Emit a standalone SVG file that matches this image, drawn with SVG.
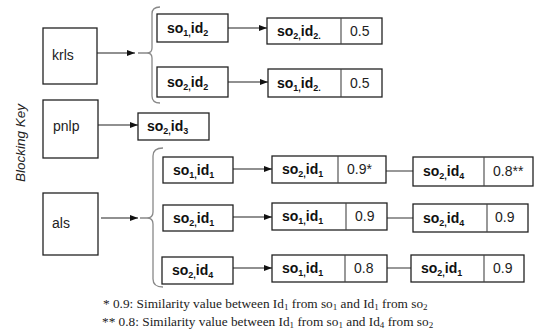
<svg xmlns="http://www.w3.org/2000/svg" width="535" height="331" viewBox="0 0 535 331">
<defs>
<marker id="ah" viewBox="0 0 8 6" refX="8" refY="3" markerWidth="8" markerHeight="6" markerUnits="userSpaceOnUse" orient="auto"><path d="M0,0 L8,3 L0,6 z" fill="#111"/></marker>
<style>
.box{fill:#fff;stroke:#222;stroke-width:1.3}
.key{font-family:"Liberation Sans",Arial,sans-serif;font-size:14px;fill:#222}
.lbl{font-family:"Liberation Sans",Arial,sans-serif;font-size:14px;font-weight:bold;fill:#111}
.num{font-family:"Liberation Sans",Arial,sans-serif;font-size:14px;fill:#222}
.sub{font-size:9px}
.arr{stroke:#222;stroke-width:1.1;fill:none;marker-end:url(#ah)}
.ln{stroke:#444;stroke-width:1.1;fill:none}
.brace{stroke:#888;stroke-width:1.3;fill:none}
.note{font-family:"Liberation Serif","Times New Roman",serif;font-size:13.3px;fill:#222}
.nsub{font-size:9px}
.axis{font-family:"Liberation Sans",Arial,sans-serif;font-size:13.5px;font-style:italic;fill:#222}
</style>
</defs>

<text class="axis" transform="translate(25,143) rotate(-90)" text-anchor="middle">Blocking Key</text>

<g id="connectors">
<path class="arr" d="M97,53 H135"/>
<path class="brace" d="M160,7 Q152,7 152,14 V48 Q152,53 147,53 H138 M147,53 Q152,53 152,58 V96 Q152,103 160,103"/>
<path class="arr" d="M228,28 H267"/>
<path class="arr" d="M228,82 H268"/>
<path class="arr" d="M98,125 H138"/>
<path class="arr" d="M101,218 H138"/>
<path class="brace" d="M163,148 Q153,148 153,156 V212 Q153,218 147,218 H140 M147,218 Q153,218 153,224 V279 Q153,287 163,287"/>
<path class="arr" d="M233,169 H272"/>
<path class="arr" d="M233,217 H272"/>
<path class="arr" d="M233,268 H272"/>
<path class="ln" d="M386,171 H413"/>
<path class="ln" d="M387,218 H413"/>
<path class="ln" d="M387,268 H411"/>
</g>

<g id="krls"><rect class="box" x="43" y="28" width="54" height="56"/><text class="key" x="52" y="60">krls</text></g>
<g id="pnlp"><rect class="box" x="43" y="100" width="55" height="58"/><text class="key" x="53" y="131">pnlp</text></g>
<g id="als"><rect class="box" x="43" y="193" width="55" height="62"/><text class="key" x="52" y="228">als</text></g>

<g id="k1"><rect class="box" x="157" y="14" width="71" height="28"/><text class="lbl" x="167" y="33">so<tspan class="sub" dy="3">1,</tspan><tspan dy="-3">id</tspan><tspan class="sub" dy="3">2</tspan></text></g>
<g id="k2"><rect class="box" x="157" y="67" width="71" height="30"/><text class="lbl" x="167" y="87">so<tspan class="sub" dy="3">2,</tspan><tspan dy="-3">id</tspan><tspan class="sub" dy="3">2</tspan></text></g>
<g id="k1r"><rect class="box" x="267" y="18" width="115" height="26"/><line class="ln" x1="341" y1="18" x2="341" y2="44"/><text class="lbl" x="277" y="36">so<tspan class="sub" dy="3">2,</tspan><tspan dy="-3">id</tspan><tspan class="sub" dy="3">2.</tspan></text><text class="num" x="350" y="36">0.5</text></g>
<g id="k2r"><rect class="box" x="268" y="69" width="114" height="28"/><line class="ln" x1="341" y1="69" x2="341" y2="97"/><text class="lbl" x="277" y="88">so<tspan class="sub" dy="3">1,</tspan><tspan dy="-3">id</tspan><tspan class="sub" dy="3">2.</tspan></text><text class="num" x="350" y="88">0.5</text></g>

<g id="p1"><rect class="box" x="138" y="113" width="71" height="27"/><text class="lbl" x="147" y="131">so<tspan class="sub" dy="3">2,</tspan><tspan dy="-3">id</tspan><tspan class="sub" dy="3">3</tspan></text></g>

<g id="a1"><rect class="box" x="163" y="157" width="70" height="26"/><text class="lbl" x="173" y="175">so<tspan class="sub" dy="3">1,</tspan><tspan dy="-3">id</tspan><tspan class="sub" dy="3">1</tspan></text></g>
<g id="a2"><rect class="box" x="163" y="205" width="70" height="26"/><text class="lbl" x="173" y="223">so<tspan class="sub" dy="3">2,</tspan><tspan dy="-3">id</tspan><tspan class="sub" dy="3">1</tspan></text></g>
<g id="a3"><rect class="box" x="162" y="257" width="71" height="27"/><text class="lbl" x="172" y="275">so<tspan class="sub" dy="3">2,</tspan><tspan dy="-3">id</tspan><tspan class="sub" dy="3">4</tspan></text></g>

<g id="a1m"><rect class="box" x="272" y="156" width="114" height="27"/><line class="ln" x1="338" y1="156" x2="338" y2="183"/><text class="lbl" x="282" y="174">so<tspan class="sub" dy="3">2,</tspan><tspan dy="-3">id</tspan><tspan class="sub" dy="3">1</tspan></text><text class="num" x="347" y="174">0.9*</text></g>
<g id="a1r"><rect class="box" x="413" y="157" width="120" height="29"/><line class="ln" x1="484" y1="157" x2="484" y2="186"/><text class="lbl" x="423" y="176">so<tspan class="sub" dy="3">2,</tspan><tspan dy="-3">id</tspan><tspan class="sub" dy="3">4</tspan></text><text class="num" x="493" y="176">0.8**</text></g>

<g id="a2m"><rect class="box" x="272" y="203" width="115" height="27"/><line class="ln" x1="346" y1="203" x2="346" y2="230"/><text class="lbl" x="282" y="221">so<tspan class="sub" dy="3">1,</tspan><tspan dy="-3">id</tspan><tspan class="sub" dy="3">1</tspan></text><text class="num" x="355" y="221">0.9</text></g>
<g id="a2r"><rect class="box" x="413" y="204" width="115" height="28"/><line class="ln" x1="487" y1="204" x2="487" y2="232"/><text class="lbl" x="423" y="223">so<tspan class="sub" dy="3">2,</tspan><tspan dy="-3">id</tspan><tspan class="sub" dy="3">4</tspan></text><text class="num" x="495" y="222">0.9</text></g>

<g id="a3m"><rect class="box" x="272" y="255" width="115" height="27"/><line class="ln" x1="345" y1="255" x2="345" y2="282"/><text class="lbl" x="282" y="273">so<tspan class="sub" dy="3">1,</tspan><tspan dy="-3">id</tspan><tspan class="sub" dy="3">1</tspan></text><text class="num" x="354" y="273">0.8</text></g>
<g id="a3r"><rect class="box" x="411" y="255" width="113" height="27"/><line class="ln" x1="484" y1="255" x2="484" y2="282"/><text class="lbl" x="421" y="273">so<tspan class="sub" dy="3">2,</tspan><tspan dy="-3">id</tspan><tspan class="sub" dy="3">1</tspan></text><text class="num" x="493" y="273">0.9</text></g>

<g id="notes">
<text class="note" x="103" y="308">* 0.9: Similarity value between Id<tspan class="nsub" dy="2">1</tspan><tspan dy="-2"> from so</tspan><tspan class="nsub" dy="2">1</tspan><tspan dy="-2"> and Id</tspan><tspan class="nsub" dy="2">1</tspan><tspan dy="-2"> from so</tspan><tspan class="nsub" dy="2">2</tspan></text>
<text class="note" x="102" y="326">** 0.8: Similarity value between Id<tspan class="nsub" dy="2">1</tspan><tspan dy="-2"> from so</tspan><tspan class="nsub" dy="2">1</tspan><tspan dy="-2"> and Id</tspan><tspan class="nsub" dy="2">4</tspan><tspan dy="-2"> from so</tspan><tspan class="nsub" dy="2">2</tspan></text>
</g>
</svg>
